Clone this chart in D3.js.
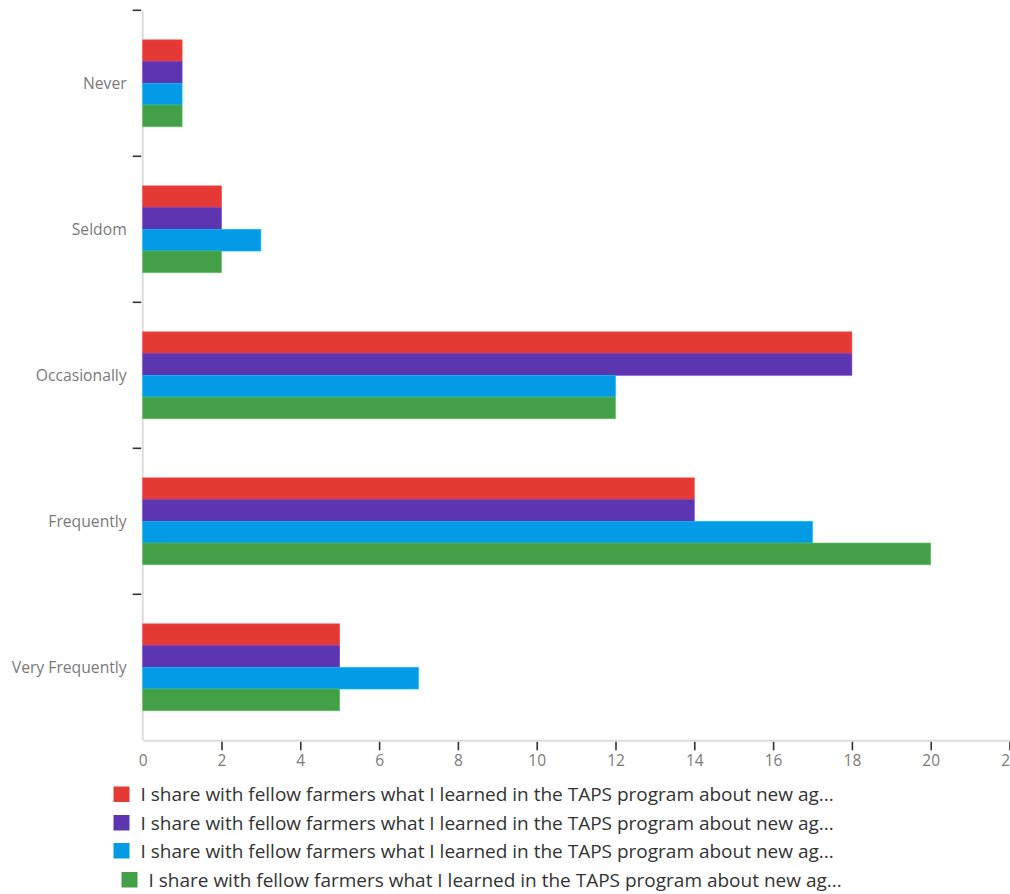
<!DOCTYPE html>
<html>
<head>
<meta charset="utf-8">
<script src="https://cdn.jsdelivr.net/npm/d3@7"></script>
<style>
  html, body { margin: 0; padding: 0; background: #fff; }
  svg { display: block; font-family: "Open Sans", sans-serif; }
</style>
</head>
<body>
<svg id="chart" width="1010" height="894"></svg>
<script>
// Response frequency categories (top to bottom)
const categories = ["Never", "Seldom", "Occasionally", "Frequently", "Very Frequently"];
// Four statements, each one series
const seriesNames = [
  "I share with fellow farmers what I learned in the TAPS program about new ag...",
  "I share with fellow farmers what I learned in the TAPS program about new ag...",
  "I share with fellow farmers what I learned in the TAPS program about new ag...",
  "I share with fellow farmers what I learned in the TAPS program about new ag..."
];
const seriesColors = ["#e53935", "#5e35b1", "#039be5", "#43a047"];
// Counts per category, one array per series
const series1 = [1, 2, 18, 14, 5];
const series2 = [1, 2, 18, 14, 5];
const series3 = [1, 3, 12, 17, 7];
const series4 = [1, 2, 12, 20, 5];
const xTicks = [0, 2, 4, 6, 8, 10, 12, 14, 16, 18, 20, 22];
const xMax = 22;

const allSeries = [series1, series2, series3, series4];
const seriesIdx = d3.range(allSeries.length);

const svg = d3.select("#chart");
const plot = { left: 142.7, top: 10.3, bottom: 740.3, right: 1009.5 };

const x = d3.scaleLinear().domain([0, xMax]).range([plot.left, plot.right]);
const y = d3.scaleBand().domain(categories).range([plot.top, plot.bottom]).padding(0);
const yInner = d3.scaleBand().domain(seriesIdx).range([0, y.bandwidth()])
  .paddingInner(0).paddingOuter(1.36);

// Vertical axis line
svg.append("line")
  .attr("x1", plot.left).attr("x2", plot.left)
  .attr("y1", plot.top).attr("y2", plot.bottom)
  .attr("stroke", "#dcdcdc").attr("stroke-width", 2);

// Bars
const groups = svg.append("g").selectAll("g")
  .data(categories)
  .join("g")
  .attr("transform", c => `translate(0,${y(c)})`);

groups.selectAll("rect")
  .data((c, ci) => seriesIdx.map(si => ({ si, v: allSeries[si][ci] })))
  .join("rect")
  .attr("x", x(0))
  .attr("y", d => yInner(d.si))
  .attr("width", d => x(d.v) - x(0))
  .attr("height", yInner.bandwidth())
  .attr("fill", d => seriesColors[d.si])
  .attr("stroke", d => d3.color(seriesColors[d.si]).brighter(0.6))
  .attr("stroke-width", 0.6);

// Category ticks at band boundaries and labels at band centres
const yAxis = svg.append("g");
yAxis.selectAll("line")
  .data(categories)
  .join("line")
  .attr("x1", plot.left - 10).attr("x2", plot.left - 1.5)
  .attr("y1", c => y(c)).attr("y2", c => y(c))
  .attr("stroke", "#333").attr("stroke-width", 1.6);
yAxis.selectAll("text")
  .data(categories)
  .join("text")
  .attr("x", plot.left - 16)
  .attr("y", c => y(c) + y.bandwidth() / 2)
  .attr("dy", "0.35em")
  .attr("text-anchor", "end")
  .attr("fill", "#7a7a7a")
  .style("font-size", "15.7px")
  .text(c => c);

// Value axis
const xAxis = svg.append("g")
  .attr("transform", `translate(0,${plot.bottom})`)
  .call(d3.axisBottom(x).tickValues(xTicks).tickSize(0).tickPadding(15)
    .tickFormat(d3.format("d")));
xAxis.select(".domain").attr("stroke", "#dcdcdc").attr("stroke-width", 2);
xAxis.selectAll(".tick text").attr("fill", "#7a7a7a").style("font-size", "15.5px")
  .style("font-family", "'Open Sans', sans-serif");
xAxis.selectAll(".tick")
  .filter(d => d > 0)
  .append("line")
  .attr("y1", 1.5).attr("y2", 10)
  .attr("stroke", "#333").attr("stroke-width", 1.6);

// Legend
const legendRows = [
  { sx: 113.5, tx: 140.5, cy: 794.5 },
  { sx: 113.5, tx: 140.5, cy: 823 },
  { sx: 113.5, tx: 140.5, cy: 851 },
  { sx: 121.5, tx: 148.5, cy: 880 }
];
const legend = svg.append("g").selectAll("g")
  .data(seriesIdx)
  .join("g");
legend.append("rect")
  .attr("x", i => legendRows[i].sx)
  .attr("y", i => legendRows[i].cy - 8)
  .attr("width", 16).attr("height", 15.5)
  .attr("fill", i => seriesColors[i]);
legend.append("text")
  .attr("x", i => legendRows[i].tx)
  .attr("y", i => legendRows[i].cy)
  .attr("dy", "0.35em")
  .attr("fill", "#333")
  .style("font-size", "19px")
  .text(i => seriesNames[i]);
</script>
</body>
</html>
